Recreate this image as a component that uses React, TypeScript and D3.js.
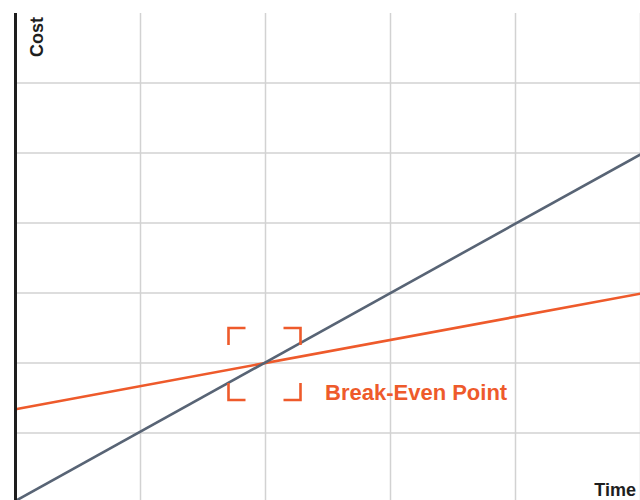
import React, { useEffect, useRef } from 'react';
import * as d3 from 'd3';

// grid steps on both axes
const xTicks = [0, 1, 2, 3, 4, 5];
const yTicks = [0, 1, 2, 3, 4, 5, 6, 7];

// two cost lines (time, cost)
const variableCost = [
  { t: 0, c: 0.03 },
  { t: 5, c: 4.98 },
];
const fixedCost = [
  { t: 0, c: 1.34 },
  { t: 5, c: 2.99 },
];

const breakEven = { t: 2, c: 2, label: 'Break-Even Point' };

const App = () => {
  const ref = useRef<SVGSVGElement | null>(null);

  useEffect(() => {
    const svg = d3.select(ref.current);
    svg.selectAll('*').remove();

    const width = 640;
    const height = 500;

    const x = d3.scaleLinear().domain([0, 5]).range([15.5, 640.5]);
    const y = d3.scaleLinear().domain([0, 7]).range([503, 13]);

    const orange = '#ee5a2b';
    const slate = '#586475';

    // vertical grid
    svg.append('g')
      .selectAll('line')
      .data(xTicks.slice(1))
      .enter().append('line')
      .attr('x1', d => x(d))
      .attr('x2', d => x(d))
      .attr('y1', y(7))
      .attr('y2', height)
      .attr('stroke', '#d2d2d2')
      .attr('stroke-width', 1.5);

    // horizontal grid
    svg.append('g')
      .selectAll('line')
      .data(yTicks.slice(1, -1))
      .enter().append('line')
      .attr('x1', x(0))
      .attr('x2', width)
      .attr('y1', d => y(d))
      .attr('y2', d => y(d))
      .attr('stroke', '#d2d2d2')
      .attr('stroke-width', 1.5);

    const line = d3.line<{ t: number; c: number }>()
      .x(d => x(d.t))
      .y(d => y(d.c));

    svg.append('path')
      .datum(fixedCost)
      .attr('d', line)
      .attr('fill', 'none')
      .attr('stroke', orange)
      .attr('stroke-width', 2.6);

    svg.append('path')
      .datum(variableCost)
      .attr('d', line)
      .attr('fill', 'none')
      .attr('stroke', slate)
      .attr('stroke-width', 2.6);

    // y axis
    svg.append('line')
      .attr('x1', x(0))
      .attr('x2', x(0))
      .attr('y1', y(7))
      .attr('y2', height)
      .attr('stroke', '#1e1e1e')
      .attr('stroke-width', 3);

    // corner brackets around the break-even point
    const cx = x(breakEven.t) - 1;
    const cy = y(breakEven.c) + 1;
    const half = 36;
    const arm = 17;
    const corners = [
      [-1, -1], [1, -1], [-1, 1], [1, 1],
    ];
    svg.append('g')
      .selectAll('path')
      .data(corners)
      .enter().append('path')
      .attr('d', ([sx, sy]) => {
        const px = cx + sx * half;
        const py = cy + sy * half;
        return `M${px - sx * arm},${py}L${px},${py}L${px},${py - sy * arm}`;
      })
      .attr('fill', 'none')
      .attr('stroke', orange)
      .attr('stroke-width', 2.6);

    svg.append('text')
      .attr('x', 325)
      .attr('y', 400)
      .attr('fill', orange)
      .attr('font-family', 'Liberation Sans, Arial, sans-serif')
      .attr('font-weight', 'bold')
      .attr('font-size', 22)
      .text(breakEven.label);

    svg.append('text')
      .attr('transform', 'translate(43,17) rotate(-90)')
      .attr('text-anchor', 'end')
      .attr('fill', '#1e1e1e')
      .attr('font-family', 'Liberation Sans, Arial, sans-serif')
      .attr('font-weight', 'bold')
      .attr('font-size', 18)
      .text('Cost');

    svg.append('text')
      .attr('x', 636)
      .attr('y', 496)
      .attr('text-anchor', 'end')
      .attr('fill', '#1e1e1e')
      .attr('font-family', 'Liberation Sans, Arial, sans-serif')
      .attr('font-weight', 'bold')
      .attr('font-size', 18)
      .text('Time');
  }, []);

  return (
    <svg
      ref={ref}
      width="640"
      height="500"
      style={{ position: 'absolute', left: 0, top: 0, background: '#fff' }}
    ></svg>
  );
};

export default App;
